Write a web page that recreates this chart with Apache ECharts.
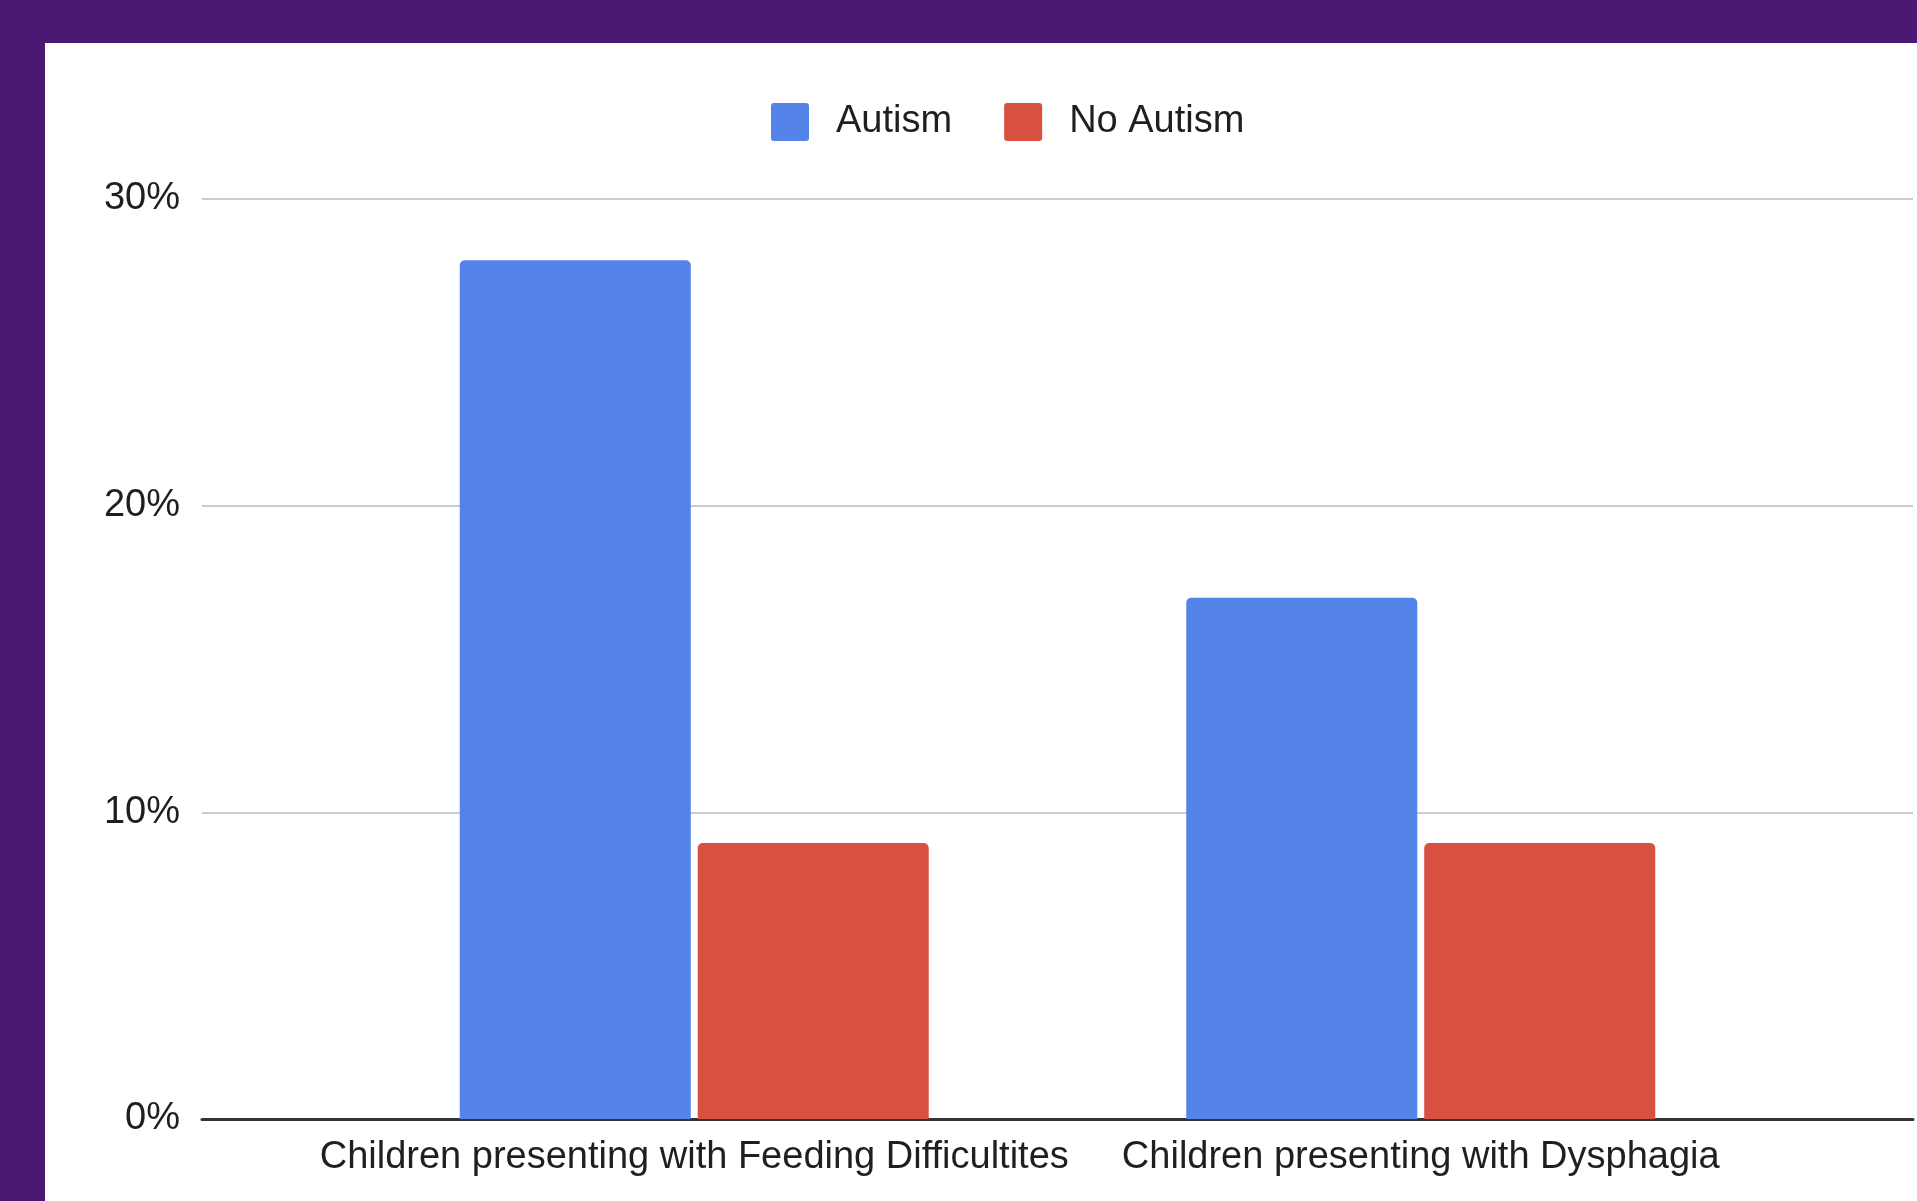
<!DOCTYPE html>
<html>
<head>
<meta charset="utf-8">
<title>Feeding difficulties and dysphagia in children</title>
<script src="https://cdn.jsdelivr.net/npm/echarts@6/dist/echarts.min.js"></script>
<style>
  html, body { margin: 0; padding: 0; width: 1917px; height: 1201px; background: #4b1873; overflow: hidden; }
  #panel { position: absolute; left: 45px; top: 43px; right: 0; bottom: 0; background: #ffffff; }
  #chart { position: absolute; left: 0; top: 0; width: 1917px; height: 1201px; }
</style>
</head>
<body>
<div id="panel"></div>
<div id="chart"></div>
<script>
// Share of children (%) in each group
const categories = ['Children presenting with Feeding Difficultites', 'Children presenting with Dysphagia'];
const seriesNames = ['Autism', 'No Autism'];
const autismValues = [28, 17];
const noAutismValues = [9, 9];
const yTicks = [0, 10, 20, 30];

const FONT = 'Arial, "Liberation Sans", Helvetica, sans-serif';
const TEXT = '#1f1f1f';
// square legend swatch with slightly rounded corners
const SWATCH = 'path://M3,0H35Q38,0 38,3V35Q38,38 35,38H3Q0,38 0,35V3Q0,0 3,0Z';

const chart = echarts.init(document.getElementById('chart'), null, { renderer: 'canvas' });

chart.setOption({
  backgroundColor: 'transparent',
  animation: false,
  textStyle: { fontFamily: FONT },
  legend: {
    data: seriesNames,
    left: 771,
    top: 103,
    padding: 0,
    icon: SWATCH,
    itemWidth: 38,
    itemHeight: 38,
    itemGap: 52,
    textStyle: { fontSize: 38, color: TEXT, fontFamily: FONT, padding: [2, 0, 0, 22] }
  },
  grid: [
    // full-width frame: gridlines, tick labels and baseline
    { left: 202, right: 4, top: 199, bottom: 82 },
    // bars and category labels
    { left: 331, width: 1453, top: 199, bottom: 82 }
  ],
  xAxis: [
    {
      gridIndex: 0, type: 'value', min: 0, max: 1,
      axisLine: { show: true, lineStyle: { color: '#333333', width: 3 } },
      axisTick: { show: false }, axisLabel: { show: false }, splitLine: { show: false }
    },
    {
      gridIndex: 1, type: 'category', data: categories,
      axisLine: { show: false }, axisTick: { show: false },
      axisLabel: { interval: 0, fontSize: 38, color: TEXT, fontFamily: FONT, margin: 20 }
    }
  ],
  yAxis: [
    {
      gridIndex: 0, type: 'value',
      min: yTicks[0], max: yTicks[yTicks.length - 1], interval: yTicks[1] - yTicks[0],
      axisLine: { show: false }, axisTick: { show: false },
      axisLabel: { formatter: '{value}%', fontSize: 38, color: TEXT, fontFamily: FONT, margin: 22, padding: [5, 0, 0, 0] },
      splitLine: { show: true, lineStyle: { color: '#cccccc', width: 2 } }
    },
    {
      gridIndex: 1, type: 'value',
      min: yTicks[0], max: yTicks[yTicks.length - 1], interval: yTicks[1] - yTicks[0],
      show: false, splitLine: { show: false }
    }
  ],
  series: [
    {
      name: seriesNames[0], type: 'bar', xAxisIndex: 1, yAxisIndex: 1,
      data: autismValues, barWidth: '31.8%', barGap: '3%',
      itemStyle: { color: '#5484ea', borderRadius: [5, 5, 0, 0] }
    },
    {
      name: seriesNames[1], type: 'bar', xAxisIndex: 1, yAxisIndex: 1,
      data: noAutismValues, barWidth: '31.8%', barGap: '3%',
      itemStyle: { color: '#d85140', borderRadius: [5, 5, 0, 0] }
    }
  ]
});
</script>
</body>
</html>
